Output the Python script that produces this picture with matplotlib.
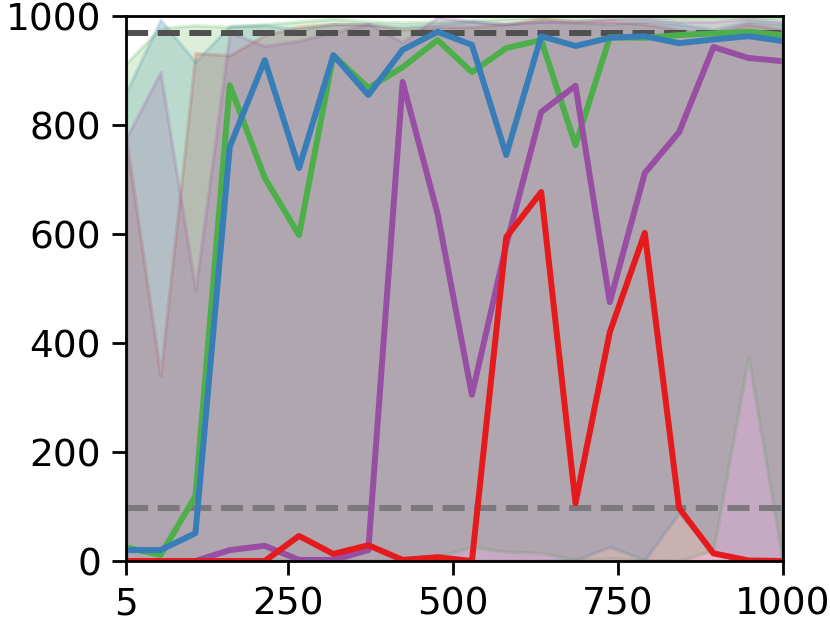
import numpy as np
import matplotlib
matplotlib.use("Agg")
import matplotlib.pyplot as plt

# training steps (20 evaluation points)
steps = [5, 57, 110, 162, 215, 267, 319, 372, 424, 477,
         529, 581, 634, 686, 738, 791, 843, 895, 948, 1000]

# mean return per run
green_mean = [25, 11, 119, 873, 703, 598, 928, 868, 906, 956,
              897, 941, 956, 763, 961, 960, 965, 968, 971, 965]
blue_mean = [20, 20, 51, 760, 919, 721, 928, 855, 938, 971,
             947, 745, 963, 945, 960, 963, 950, 957, 963, 954]
purple_mean = [0, 0, 0, 20, 28, 2, 2, 20, 879, 637,
               305, 580, 824, 872, 475, 712, 787, 943, 923, 917]
red_mean = [0, 0, 0, 0, 0, 46, 13, 29, 2, 7,
            0, 594, 677, 106, 420, 602, 97, 14, 1, 0]

# min / max over seeds
green_lo = [0, 0, 0, 0, 0, 0, 0, 0, 0, 8,
            26, 17, 15, 2, 5, 2, 0, 20, 374, 0]
green_hi = [913, 978, 983, 980, 985, 990, 995, 990, 988, 990,
            992, 995, 997, 995, 995, 997, 997, 998, 998, 997]
blue_lo = [0, 0, 0, 0, 0, 0, 0, 0, 0, 0,
           0, 0, 0, 2, 26, 2, 88, 15, 0, 0]
blue_hi = [860, 993, 916, 982, 983, 975, 985, 985, 980, 985,
           990, 985, 990, 988, 985, 990, 985, 975, 990, 985]
purple_lo = [0] * 20
purple_hi = [776, 897, 497, 970, 945, 955, 970, 985, 952, 998,
             990, 985, 990, 990, 995, 995, 990, 990, 995, 990]
red_lo = [0] * 20
red_hi = [776, 341, 932, 928, 965, 980, 985, 985, 975, 980,
          980, 985, 995, 990, 990, 985, 975, 968, 985, 975]

upper_ref = 969
lower_ref = 97

plt.rcParams['font.size'] = 27

fig = plt.figure(figsize=(8.3, 6.23), dpi=100)
ax = fig.add_axes([0.152, 0.0995, 0.791, 0.8748])

series = {
    'green': (green_mean, green_lo, green_hi, '#4daf4a'),
    'blue': (blue_mean, blue_lo, blue_hi, '#377eb8'),
    'purple': (purple_mean, purple_lo, purple_hi, '#984ea3'),
    'red': (red_mean, red_lo, red_hi, '#e41a1c'),
}

# bands
for name in ['red', 'blue', 'green', 'purple']:
    mean, lo, hi, c = series[name]
    ax.fill_between(steps, lo, hi, color=c, alpha=0.2, linewidth=2.5)

ax.axhline(upper_ref, color='#505050', linestyle='--', linewidth=4.3)
ax.axhline(lower_ref, color='#7d787d', linestyle='--', linewidth=4.3)

# means
for name in ['green', 'blue', 'purple', 'red']:
    mean, lo, hi, c = series[name]
    ax.plot(steps, mean, color=c, linewidth=4.3)

ax.set_xlim(5, 1000)
ax.set_ylim(0, 1000)
ax.set_xticks([5, 250, 500, 750, 1000])
ax.set_yticks([0, 200, 400, 600, 800, 1000])
ax.tick_params(length=10, width=2, pad=8)
for s in ax.spines.values():
    s.set_linewidth(2)

fig.savefig('out.png', dpi=100)
